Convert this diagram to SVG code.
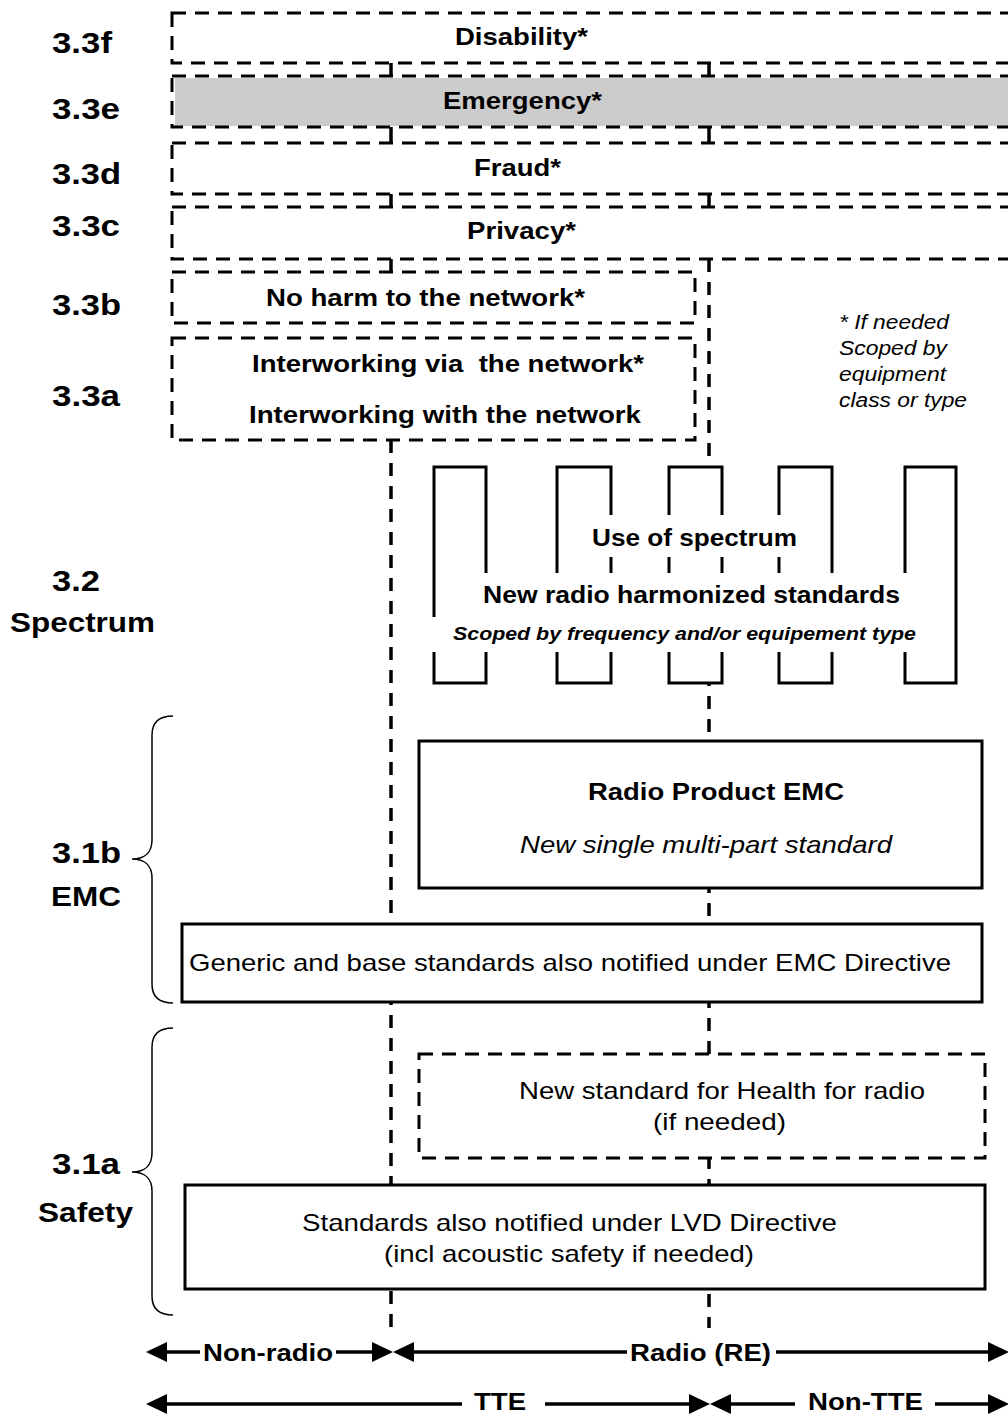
<svg xmlns="http://www.w3.org/2000/svg" width="1008" height="1416" viewBox="0 0 1008 1416">
<defs>
<style>
.dash{fill:#fff;stroke:#000;stroke-width:3;stroke-dasharray:14 9}
.dashn{fill:none;stroke:#000;stroke-width:3;stroke-dasharray:14 9}
.solid{fill:#fff;stroke:#000;stroke-width:3}
.vline{fill:none;stroke:#000;stroke-width:3.5;stroke-dasharray:13 10}
.tick{fill:none;stroke:#000;stroke-width:3.5}
.sp{fill:none;stroke:#000;stroke-width:3}
.brace{fill:none;stroke:#000;stroke-width:1.5}
.arr{fill:none;stroke:#000;stroke-width:3.5}
text{font-family:"Liberation Sans",Arial,sans-serif;fill:#000}
.b{font-weight:bold}
.i{font-style:italic}
.f24{font-size:24px}
.f30{font-size:30px}
.f28{font-size:28px}
</style>
<marker id="ah" markerUnits="userSpaceOnUse" markerWidth="21" markerHeight="20" viewBox="0 0 21 20" refX="0" refY="10" orient="auto-start-reverse" overflow="visible">
<path d="M0,0 L21,10 L0,20 z" fill="#000"/>
</marker>
</defs>
<rect width="1008" height="1416" fill="#fff"/>

<g id="connectors">
<line class="tick" x1="391" y1="63" x2="391" y2="76"/>
<line class="tick" x1="391" y1="127" x2="391" y2="143"/>
<line class="tick" x1="391" y1="194" x2="391" y2="207"/>
<line class="tick" x1="391" y1="259" x2="391" y2="272"/>
<line class="tick" x1="709" y1="63" x2="709" y2="76"/>
<line class="tick" x1="709" y1="127" x2="709" y2="143"/>
<line class="tick" x1="709" y1="194" x2="709" y2="207"/>
<line class="vline" x1="391" y1="440" x2="391" y2="1328"/>
<line class="vline" x1="709" y1="259" x2="709" y2="1328"/>
</g>

<g id="label-3-3f"><text class="b f30" x="52" y="53" textLength="60" lengthAdjust="spacingAndGlyphs">3.3f</text></g>
<g id="label-3-3e"><text class="b f30" x="52" y="119" textLength="68" lengthAdjust="spacingAndGlyphs">3.3e</text></g>
<g id="label-3-3d"><text class="b f30" x="52" y="184" textLength="69" lengthAdjust="spacingAndGlyphs">3.3d</text></g>
<g id="label-3-3c"><text class="b f30" x="52" y="236" textLength="68" lengthAdjust="spacingAndGlyphs">3.3c</text></g>
<g id="label-3-3b"><text class="b f30" x="52" y="315" textLength="69" lengthAdjust="spacingAndGlyphs">3.3b</text></g>
<g id="label-3-3a"><text class="b f30" x="52" y="406" textLength="68" lengthAdjust="spacingAndGlyphs">3.3a</text></g>
<g id="label-3-2">
<text class="b f30" x="52" y="591" textLength="48" lengthAdjust="spacingAndGlyphs">3.2</text>
<text class="b f28" x="10" y="632" textLength="145" lengthAdjust="spacingAndGlyphs">Spectrum</text>
</g>
<g id="label-3-1b">
<path class="brace" d="M173,716 C160,716 152,722 152,735 L152,840 C152,852 145,859 132,859 C145,859 152,866 152,878 L152,984 C152,997 160,1003 173,1003"/>
<text class="b f30" x="52" y="863" textLength="69" lengthAdjust="spacingAndGlyphs">3.1b</text>
<text class="b f28" x="51" y="906" textLength="70" lengthAdjust="spacingAndGlyphs">EMC</text>
</g>
<g id="label-3-1a">
<path class="brace" d="M173,1028 C160,1028 152,1034 152,1047 L152,1153 C152,1165 145,1172 132,1172 C145,1172 152,1179 152,1191 L152,1296 C152,1309 160,1315 173,1315"/>
<text class="b f30" x="52" y="1174" textLength="68" lengthAdjust="spacingAndGlyphs">3.1a</text>
<text class="b f28" x="38" y="1222" textLength="95" lengthAdjust="spacingAndGlyphs">Safety</text>
</g>

<g id="disability">
<rect class="dash" x="172" y="13" width="900" height="50"/>
<text class="b f24" x="455" y="45" textLength="133" lengthAdjust="spacingAndGlyphs">Disability*</text>
</g>
<g id="emergency">
<rect x="175" y="78" width="900" height="48" fill="#cccccc"/>
<rect class="dashn" x="172" y="76" width="900" height="51"/>
<text class="b f24" x="443" y="109" textLength="159" lengthAdjust="spacingAndGlyphs">Emergency*</text>
</g>
<g id="fraud">
<rect class="dash" x="172" y="143" width="900" height="51"/>
<text class="b f24" x="474" y="176" textLength="87" lengthAdjust="spacingAndGlyphs">Fraud*</text>
</g>
<g id="privacy">
<rect class="dash" x="172" y="207" width="900" height="52"/>
<text class="b f24" x="467" y="239" textLength="109" lengthAdjust="spacingAndGlyphs">Privacy*</text>
</g>
<g id="no-harm">
<rect class="dash" x="172" y="272" width="523" height="51"/>
<text class="b f24" x="266" y="306" textLength="319" lengthAdjust="spacingAndGlyphs">No harm to the network*</text>
</g>
<g id="interworking">
<rect class="dash" x="172" y="338" width="523" height="102"/>
<text class="b f24" x="252" y="372" textLength="392" lengthAdjust="spacingAndGlyphs" xml:space="preserve">Interworking via  the network*</text>
<text class="b f24" x="249" y="423" textLength="392" lengthAdjust="spacingAndGlyphs">Interworking with the network</text>
</g>
<g id="note">
<text class="i" font-size="20" x="839" y="329" textLength="110" lengthAdjust="spacingAndGlyphs">* If needed</text>
<text class="i" font-size="20" x="839" y="355" textLength="108" lengthAdjust="spacingAndGlyphs">Scoped by</text>
<text class="i" font-size="20" x="839" y="381" textLength="107" lengthAdjust="spacingAndGlyphs">equipment</text>
<text class="i" font-size="20" x="839" y="407" textLength="128" lengthAdjust="spacingAndGlyphs">class or type</text>
</g>

<g id="spectrum">
<rect x="434" y="467" width="522" height="216" fill="#fff"/>
<path class="sp" d="M434,617 V467 H486 V573 M434,652 V683 H486 V652"/>
<path class="sp" d="M557,573 V467 H611 V515 M611,557 V573 M557,652 V683 H611 V652"/>
<path class="sp" d="M669,515 V467 H722 V515 M669,557 V573 M722,557 V573 M669,652 V683 H722 V652"/>
<path class="sp" d="M779,515 V467 H832 V573 M779,557 V573 M779,652 V683 H832 V652"/>
<path class="sp" d="M905,573 V467 H956 V683 H905 V652"/>
<text class="b" font-size="23" x="592" y="546" textLength="205" lengthAdjust="spacingAndGlyphs">Use of spectrum</text>
<text class="b" font-size="23" x="483" y="603" textLength="417" lengthAdjust="spacingAndGlyphs">New radio harmonized standards</text>
<text class="b i" font-size="18.5" x="453" y="640" textLength="463" lengthAdjust="spacingAndGlyphs">Scoped by frequency and/or equipement type</text>
</g>

<g id="radio-emc">
<rect class="solid" x="419" y="741" width="563" height="147"/>
<text class="b f24" x="588" y="800" textLength="256" lengthAdjust="spacingAndGlyphs">Radio Product EMC</text>
<text class="i f24" x="520" y="853" textLength="372" lengthAdjust="spacingAndGlyphs">New single multi-part standard</text>
</g>
<g id="generic-emc">
<rect class="solid" x="182" y="924" width="800" height="78"/>
<text class="f24" x="189" y="971" textLength="762" lengthAdjust="spacingAndGlyphs">Generic and base standards also notified under EMC Directive</text>
</g>
<g id="health">
<rect class="dash" x="419" y="1054" width="566" height="104"/>
<text class="f24" x="519" y="1099" textLength="406" lengthAdjust="spacingAndGlyphs">New standard for Health for radio</text>
<text class="f24" x="653" y="1130" textLength="133" lengthAdjust="spacingAndGlyphs">(if needed)</text>
</g>
<g id="lvd">
<rect class="solid" x="185" y="1185" width="800" height="104"/>
<text class="f24" x="302" y="1231" textLength="535" lengthAdjust="spacingAndGlyphs">Standards also notified under LVD Directive</text>
<text class="f24" x="384" y="1262" textLength="370" lengthAdjust="spacingAndGlyphs">(incl acoustic safety if needed)</text>
</g>

<g id="scope-arrows">
<line class="arr" x1="167" y1="1352" x2="200" y2="1352" marker-start="url(#ah)"/>
<line class="arr" x1="336" y1="1352" x2="372" y2="1352" marker-end="url(#ah)"/>
<line class="arr" x1="414" y1="1352" x2="627" y2="1352" marker-start="url(#ah)"/>
<line class="arr" x1="776" y1="1352" x2="988" y2="1352" marker-end="url(#ah)"/>
<line class="arr" x1="167" y1="1404" x2="462" y2="1404" marker-start="url(#ah)"/>
<line class="arr" x1="545" y1="1404" x2="689" y2="1404" marker-end="url(#ah)"/>
<line class="arr" x1="731" y1="1404" x2="795" y2="1404" marker-start="url(#ah)"/>
<line class="arr" x1="935" y1="1404" x2="988" y2="1404" marker-end="url(#ah)"/>
<text class="b f24" x="203" y="1361" textLength="130" lengthAdjust="spacingAndGlyphs">Non-radio</text>
<text class="b f24" x="630" y="1361" textLength="141" lengthAdjust="spacingAndGlyphs">Radio (RE)</text>
<text class="b f24" x="474" y="1410" textLength="52" lengthAdjust="spacingAndGlyphs">TTE</text>
<text class="b f24" x="808" y="1410" textLength="115" lengthAdjust="spacingAndGlyphs">Non-TTE</text>
</g>
</svg>
